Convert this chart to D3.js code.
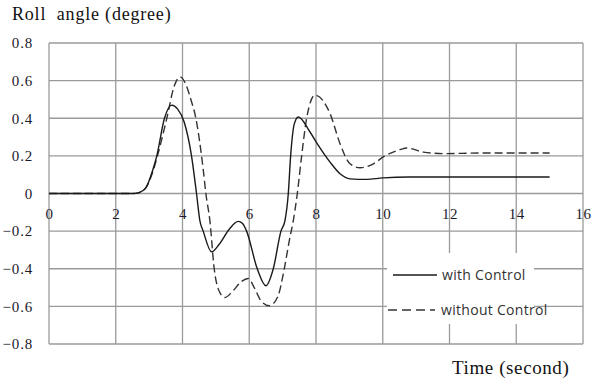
<!DOCTYPE html>
<html>
<head>
<meta charset="utf-8">
<script src="https://cdn.jsdelivr.net/npm/d3@7/dist/d3.min.js"></script>
<style>
  body { margin: 0; background: #fff; }
  svg { display: block; }
</style>
</head>
<body>
<svg id="chart" width="592" height="381"></svg>
<script>
// time (s) and roll angle (degree)
const tWith = [0, 2.5, 2.7, 2.9, 3.1, 3.23, 3.46, 3.68, 3.85, 4.05, 4.27, 4.42, 4.52, 4.62, 4.87, 5.1, 5.4, 5.67, 5.8, 5.92, 6.24, 6.5, 6.72, 6.95, 7.07, 7.17, 7.24, 7.35, 7.47, 7.82, 8.07, 8.42, 8.72, 9.02, 9.5, 10, 10.8, 12, 15];
const vWith = [0, 0, 0.005, 0.03, 0.12, 0.2, 0.4, 0.47, 0.45, 0.38, 0.2, 0, -0.144, -0.2, -0.31, -0.27, -0.19, -0.148, -0.16, -0.2, -0.4, -0.49, -0.4, -0.2, -0.144, 0, 0.2, 0.37, 0.407, 0.327, 0.256, 0.167, 0.105, 0.078, 0.075, 0.083, 0.088, 0.088, 0.088];

const tWithout = [0, 2.5, 2.7, 2.9, 3.1, 3.25, 3.53, 3.75, 3.93, 4.1, 4.25, 4.4, 4.62, 4.7, 4.82, 4.95, 5.1, 5.27, 5.5, 5.75, 5.97, 6.15, 6.35, 6.6, 6.85, 7.05, 7.2, 7.32, 7.44, 7.57, 7.72, 7.97, 8.42, 8.72, 9.02, 9.32, 9.72, 10.04, 10.52, 10.72, 11.22, 11.82, 12.9, 15];
const vWithout = [0, 0, 0.005, 0.03, 0.11, 0.2, 0.4, 0.57, 0.62, 0.58, 0.5, 0.4, 0.128, 0, -0.144, -0.4, -0.52, -0.553, -0.52, -0.47, -0.452, -0.5, -0.57, -0.597, -0.55, -0.4, -0.25, -0.144, 0, 0.2, 0.4, 0.523, 0.425, 0.265, 0.158, 0.137, 0.158, 0.197, 0.233, 0.242, 0.22, 0.212, 0.215, 0.215];

const xTicks = [0, 2, 4, 6, 8, 10, 12, 14, 16];
const yTicks = [-0.8, -0.6, -0.4, -0.2, 0, 0.2, 0.4, 0.6, 0.8];
const seriesNames = ["with Control", "without Control"];

const svg = d3.select("#chart");
const plotLeft = 49, plotRight = 583, plotTop = 43, plotBottom = 344;

const x = d3.scaleLinear().domain([0, 16]).range([plotLeft, plotRight]);
const y = d3.scaleLinear().domain([-0.8, 0.8]).range([plotBottom, plotTop]);

const gridColor = "#9a9a9a";

// grid
svg.append("g")
  .selectAll("line")
  .data(xTicks)
  .enter().append("line")
  .attr("x1", d => x(d)).attr("x2", d => x(d))
  .attr("y1", plotTop).attr("y2", plotBottom)
  .attr("stroke", gridColor).attr("stroke-width", 1.3);

svg.append("g")
  .selectAll("line")
  .data(yTicks)
  .enter().append("line")
  .attr("x1", plotLeft).attr("x2", plotRight)
  .attr("y1", d => y(d)).attr("y2", d => y(d))
  .attr("stroke", gridColor).attr("stroke-width", 1.3);

// y tick labels
const yAxis = svg.append("g")
  .attr("transform", "translate(" + plotLeft + ",0)")
  .call(d3.axisLeft(y).tickValues(yTicks).tickSize(0).tickPadding(16)
    .tickFormat(d => d3.format("")(+d.toFixed(1))));
yAxis.select(".domain").remove();
yAxis.selectAll("text")
  .attr("font-family", "Liberation Serif")
  .attr("font-size", 15)
  .attr("letter-spacing", 0.8)
  .attr("fill", "#1a1a2a");

// x tick labels sit just under the zero line
const xAxis = svg.append("g")
  .attr("transform", "translate(0," + y(0) + ")")
  .call(d3.axisBottom(x).tickValues(xTicks).tickSize(0).tickPadding(15));
xAxis.select(".domain").remove();
xAxis.selectAll("text")
  .attr("font-family", "Liberation Serif")
  .attr("font-size", 15)
  .attr("letter-spacing", 0.6)
  .attr("fill", "#1a1a2a");

// legend box (white, covers grid)
svg.append("rect")
  .attr("x", 387).attr("y", 253).attr("width", 147).attr("height", 71)
  .attr("fill", "#fff");

// curves
const line = d3.line()
  .x(d => x(d[0]))
  .y(d => y(d[1]))
  .curve(d3.curveMonotoneX);

svg.append("path")
  .datum(d3.zip(tWithout, vWithout))
  .attr("d", line)
  .attr("fill", "none")
  .attr("stroke", "#333")
  .attr("stroke-width", 1.4)
  .attr("stroke-dasharray", "8,4");

svg.append("path")
  .datum(d3.zip(tWith, vWith))
  .attr("d", line)
  .attr("fill", "none")
  .attr("stroke", "#1a1a1a")
  .attr("stroke-width", 1.4);

// legend
const legend = svg.append("g");
legend.append("line")
  .attr("x1", 393).attr("x2", 437).attr("y1", 275).attr("y2", 275)
  .attr("stroke", "#1a1a1a").attr("stroke-width", 1.6);
legend.append("line")
  .attr("x1", 388).attr("x2", 435).attr("y1", 310).attr("y2", 310)
  .attr("stroke", "#333").attr("stroke-width", 1.6)
  .attr("stroke-dasharray", "9,5");
legend.append("text")
  .attr("x", 442).attr("y", 280)
  .attr("font-family", "Open Sans").attr("font-size", 14).attr("letter-spacing", 0.3)
  .attr("fill", "#333")
  .text(seriesNames[0]);
legend.append("text")
  .attr("x", 441).attr("y", 315)
  .attr("font-family", "Open Sans").attr("font-size", 14).attr("letter-spacing", 0.3)
  .attr("fill", "#333")
  .text(seriesNames[1]);

// titles
svg.append("text")
  .attr("x", 12).attr("y", 20)
  .attr("font-family", "Liberation Serif").attr("font-size", 18).attr("letter-spacing", 0.8)
  .attr("fill", "#111")
  .style("white-space", "pre")
  .text("Roll  angle (degree)");

svg.append("text")
  .attr("x", 452).attr("y", 374)
  .attr("font-family", "Liberation Serif").attr("font-size", 19).attr("letter-spacing", 0.6)
  .attr("fill", "#111")
  .text("Time (second)");
</script>
</body>
</html>
